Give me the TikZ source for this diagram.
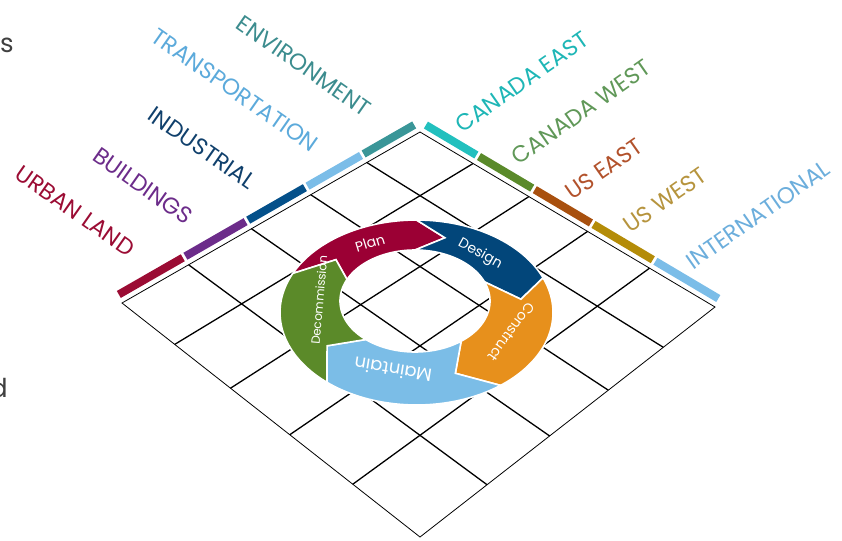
\documentclass[tikz,border=0pt]{standalone}
\usepackage{fontspec}
\setmainfont{Poppins}
\usepackage{tikz}
\definecolor{urbanred}{RGB}{155,12,52}
\definecolor{bldpurple}{RGB}{108,44,138}
\definecolor{indnavy}{RGB}{16,64,108}
\definecolor{indbar}{RGB}{4,80,138}
\definecolor{transblue}{RGB}{92,170,219}
\definecolor{skyblue}{RGB}{123,189,232}
\definecolor{envteal}{RGB}{60,140,142}
\definecolor{envbar}{RGB}{58,150,152}
\definecolor{caneteal}{RGB}{30,182,182}
\definecolor{canebar}{RGB}{34,192,190}
\definecolor{canwgreen}{RGB}{96,152,88}
\definecolor{canwbar}{RGB}{90,138,42}
\definecolor{useast}{RGB}{178,82,44}
\definecolor{useastbar}{RGB}{168,80,14}
\definecolor{uswest}{RGB}{182,148,62}
\definecolor{uswestbar}{RGB}{180,140,8}
\definecolor{intlblue}{RGB}{108,174,220}
\definecolor{planred}{RGB}{155,0,52}
\definecolor{designblue}{RGB}{2,70,122}
\definecolor{buildorange}{RGB}{231,144,28}
\definecolor{keepblue}{RGB}{123,189,231}
\definecolor{endgreen}{RGB}{91,138,41}

% one arrow of the life cycle ring, angles clockwise on the page
\newcommand{\cyclepart}[3]{%
  \filldraw[fill=#1, draw=white, line width=1.6]
    plot[domain=#2:#3, samples=40] ({416.5+136.5*cos(\x)}, {312.5+92.5*sin(\x)})
    -- ({415.75+105.75*cos(#3+16)}, {306.75+71.75*sin(#3+16)})
    -- plot[domain=#3:#2, samples=40] ({415+75*cos(\x)}, {301+51*sin(\x)})
    -- ({415.75+105.75*cos(#2+16)}, {306.75+71.75*sin(#2+16)}) -- cycle;}

\begin{document}
\begin{tikzpicture}[x=1pt,y=-1pt]
    \tikzstyle{grid}=[draw=black, line width=1.3]
    \tikzstyle{rim}=[draw=black, line width=0.8]
    \tikzstyle{bar}=[line width=8, shorten <=1.5, shorten >=1.5]
    \tikzstyle{sector}=[font=\fontsize{23}{23}\selectfont, inner sep=0pt]
    \tikzstyle{stage}=[text=white, inner sep=0pt]
    \tikzstyle{cut}=[text=black!75, font=\fontsize{26}{26}\selectfont, inner sep=0pt]

    \useasboundingbox (0,0) rectangle (842,540);

    % grid corners and edge points
    \coordinate (tl0) at (122,303);
    \coordinate (tl1) at (188.6,264.8);
    \coordinate (tl2) at (251.4,228.7);
    \coordinate (tl3) at (310.7,194.7);
    \coordinate (tl4) at (366.8,162.5);
    \coordinate (tl5) at (420,132);
    \coordinate (tr1) at (473.1,163.5);
    \coordinate (tr2) at (528.9,196.6);
    \coordinate (tr3) at (587.6,231.4);
    \coordinate (tr4) at (649.5,268.2);
    \coordinate (tr5) at (715,307);
    \coordinate (bl1) at (174.7,344.4);
    \coordinate (bl2) at (230.5,388.2);
    \coordinate (bl3) at (289.8,434.7);
    \coordinate (bl4) at (352.8,484.2);
    \coordinate (bl5) at (420,537);
    \coordinate (br1) at (487.0,484.7);
    \coordinate (br2) at (549.7,436.0);
    \coordinate (br3) at (608.3,390.2);
    \coordinate (br4) at (663.3,347.3);

    \draw[grid] (tl1) -- (br1) (tl2) -- (br2) (tl3) -- (br3) (tl4) -- (br4);
    \draw[grid] (bl1) -- (tr1) (bl2) -- (tr2) (bl3) -- (tr3) (bl4) -- (tr4);
    \draw[rim] (tl0) -- (tl5) -- (tr5) -- (bl5) -- cycle;

    % sector bars
    \draw[bar, urbanred]  ([shift={(-4.5,-7.8)}]tl0) -- ([shift={(-4.5,-7.8)}]tl1);
    \draw[bar, bldpurple] ([shift={(-4.5,-7.8)}]tl1) -- ([shift={(-4.5,-7.8)}]tl2);
    \draw[bar, indbar]    ([shift={(-4.5,-7.8)}]tl2) -- ([shift={(-4.5,-7.8)}]tl3);
    \draw[bar, skyblue]   ([shift={(-4.5,-7.8)}]tl3) -- ([shift={(-4.5,-7.8)}]tl4);
    \draw[bar, envbar]    ([shift={(-4.5,-7.8)}]tl4) -- ([shift={(-4.5,-7.8)}]tl5);
    % region bars
    \draw[bar, canebar]   ([shift={(4.6,-7.7)}]tl5) -- ([shift={(4.6,-7.7)}]tr1);
    \draw[bar, canwbar]   ([shift={(4.6,-7.7)}]tr1) -- ([shift={(4.6,-7.7)}]tr2);
    \draw[bar, useastbar] ([shift={(4.6,-7.7)}]tr2) -- ([shift={(4.6,-7.7)}]tr3);
    \draw[bar, uswestbar] ([shift={(4.6,-7.7)}]tr3) -- ([shift={(4.6,-7.7)}]tr4);
    \draw[bar, skyblue]   ([shift={(4.6,-7.7)}]tr4) -- ([shift={(4.6,-7.7)}]tr5);

    \node[sector, urbanred,  rotate=-35] (urban)      at (75,211)  {URBAN LAND};
    \node[sector, bldpurple, rotate=-35] (buildings)  at (143,186) {BUILDINGS};
    \node[sector, indnavy,   rotate=-35] (industrial) at (202,148) {INDUSTRIAL};
    \node[sector, transblue, rotate=-35] (transport)  at (235,90)  {TRANSPORTATION};
    \node[sector, envteal,   rotate=-35] (environ)    at (304,66)  {ENVIRONMENT};
    \node[sector, caneteal,  rotate=35]  (caneast)    at (522,82)  {CANADA EAST};
    \node[sector, canwgreen, rotate=35]  (canwest)    at (581,112) {CANADA WEST};
    \node[sector, useast,    rotate=35]  (useast)     at (604,169) {US EAST};
    \node[sector, uswest,    rotate=35]  (uswest)     at (665,200) {US WEST};
    \node[sector, intlblue,  rotate=35]  (intl)       at (758,215) {INTERNATIONAL};

    % life cycle ring
    \cyclepart{planred}{205}{270}
    \cyclepart{designblue}{270}{338}
    \cyclepart{buildorange}{338}{412}
    \cyclepart{keepblue}{412}{491}
    \cyclepart{endgreen}{491}{565}

    \node[stage, rotate=17,   font=\fontsize{14}{14}\selectfont] (plan)   at (370,243) {Plan};
    \node[stage, rotate=-29,  font=\fontsize{14}{14}\selectfont] (design) at (480,254) {Design};
    \node[stage, rotate=-126, font=\fontsize{14}{14}\selectfont] (build)  at (511,332) {Construct};
    \node[stage, rotate=171,  font=\fontsize{18}{18}\selectfont] (keep)   at (393,370) {Maintain};
    \node[stage, rotate=85,   font=\fontsize{12}{12}\selectfont] (retire) at (319,300) {Decommission};

    % text cut off at the left edge
    \node[cut, anchor=west] (cuts) at (0,45)  {s};
    \node[cut, anchor=east] (cutd) at (8,388) {d};
\end{tikzpicture}
\end{document}
